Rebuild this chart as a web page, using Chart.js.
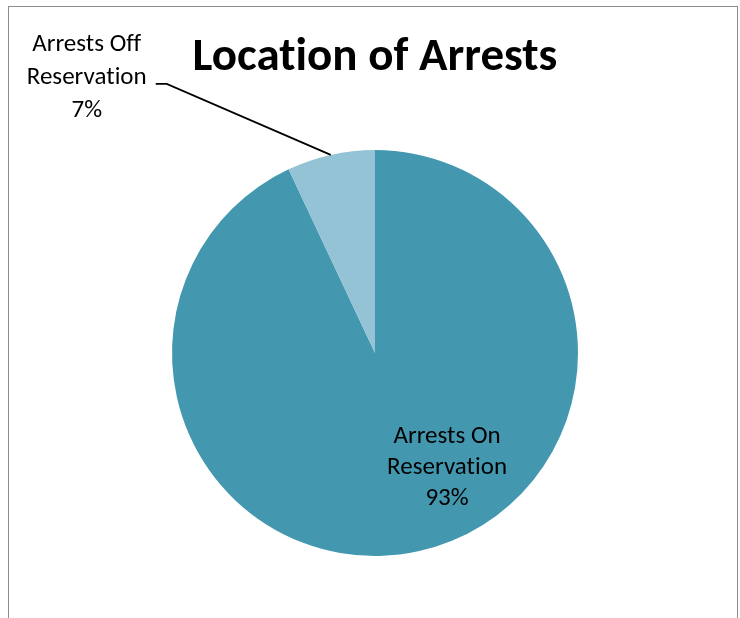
<!DOCTYPE html>
<html>
<head>
<meta charset="utf-8">
<script src="https://cdn.jsdelivr.net/npm/chart.js@4"></script>
<style>
    body { margin: 0; background: #fff; }
    .wrap { width: 740px; height: 618px; position: relative; }
</style>
</head>
<body>
<div class="wrap">
    <canvas id="pieChart" width="740" height="618"></canvas>
</div>
<script>
    const chartTitle = 'Location of Arrests'
    const categories = ['Arrests On Reservation', 'Arrests Off Reservation']
    const labelLines = [['Arrests On', 'Reservation'], ['Arrests Off', 'Reservation']]
    const shares = [93, 7]
    const sliceColors = ['#4398b0', '#93c3d5']

    const FONT = "Carlito, Lato, 'Noto Sans', sans-serif"

    // frame, title and slice labels (drawn by hand so ligatures can be switched off)
    const pieLabels = {
        id: 'pieLabels',
        beforeDraw(chart) {
            const ctx = chart.ctx
            ctx.save()
            ctx.strokeStyle = '#8c8c8c'
            ctx.lineWidth = 1
            ctx.strokeRect(8.5, 6.5, 729, 700)
            ctx.restore()
        },
        afterDatasetsDraw(chart) {
            const ctx = chart.ctx
            const meta = chart.getDatasetMeta(0)
            const total = shares.reduce((a, b) => a + b, 0)
            ctx.save()
            if ('letterSpacing' in ctx) ctx.letterSpacing = '0.01px'
            ctx.fillStyle = '#000'
            ctx.textAlign = 'center'
            ctx.textBaseline = 'middle'

            ctx.font = 'bold 47px ' + FONT
            ctx.fillText(chartTitle, meta.data[0].x, 58)

            ctx.font = '25px ' + FONT
            // big slice: label inside
            let arc = meta.data[0]
            let lines = labelLines[0].concat([Math.round(shares[0] / total * 100) + '%'])
            let cx = arc.x + arc.outerRadius * 0.355
            let cy = arc.y + arc.outerRadius * 0.567
            lines.forEach((t, i) => ctx.fillText(t, cx, cy + (i - 1) * 31))

            // small slice: label outside with a leader line
            arc = meta.data[1]
            const mid = (arc.startAngle + arc.endAngle) / 2
            const ex = arc.x + Math.cos(mid) * arc.outerRadius
            const ey = arc.y + Math.sin(mid) * arc.outerRadius
            lines = labelLines[1].concat([Math.round(shares[1] / total * 100) + '%'])
            const lx = arc.x - arc.outerRadius * 1.42
            const ly = arc.y - arc.outerRadius * 1.355
            lines.forEach((t, i) => ctx.fillText(t, lx, ly + (i - 1) * 33))

            ctx.strokeStyle = '#000'
            ctx.lineWidth = 1.75
            ctx.beginPath()
            ctx.moveTo(lx + 69, ly + 6)
            ctx.lineTo(lx + 80, ly + 6)
            ctx.lineTo(ex, ey)
            ctx.stroke()
            ctx.restore()
        }
    }

    const data = {
        labels: categories,
        datasets: [{
            data: shares,
            backgroundColor: sliceColors,
            borderWidth: 0,
        }]
    }

    const config = {
        type: 'pie',
        data: data,
        options: {
            responsive: false,
            animation: false,
            layout: {
                padding: { top: 150, left: 172, right: 162, bottom: 62 }
            },
            plugins: {
                legend: { display: false },
                tooltip: { enabled: false },
                title: { display: false }
            }
        },
        plugins: [pieLabels]
    }

    const myChart = new Chart(document.getElementById('pieChart'), config)
</script>
</body>
</html>
